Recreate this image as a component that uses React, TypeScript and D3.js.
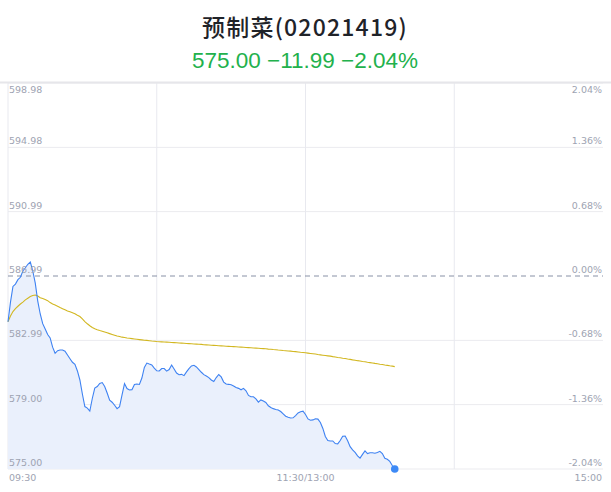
import * as d3 from 'd3';

const PREV_CLOSE = 586.99;
const PRICE_MIN = 575.0;
const PRICE_MAX = 598.98;
const TOTAL_MINUTES = 240;

// minute prices from 09:30
const prices: number[] = [
  584.15, 585.37, 586.34, 586.49, 586.76, 586.91, 587.3, 587.5, 587.72, 587.86,
  587.3, 586.55, 585.43, 584.63, 584.03, 583.7, 583.35, 583.14, 582.57, 582.19,
  582.35, 582.39, 582.39, 582.32, 582.08, 581.85, 581.63, 581.5, 581.09, 580.53,
  579.66, 578.88, 578.78, 578.6, 579.38, 580.03, 580.12, 580.32, 580.37, 580.12,
  579.72, 579.27, 579.15, 578.96, 578.75, 578.87, 579.6, 580.31, 580.0, 579.91,
  579.93, 580.25, 580.28, 580.25, 580.65, 581.31, 581.58, 581.52, 581.47, 581.27,
  581.1, 581.09, 581.24, 581.24, 581.08, 581.18, 581.46, 581.21, 580.96, 580.86,
  580.88, 580.8, 581.03, 581.24, 581.4, 581.44, 581.34, 581.18, 581.01, 580.86,
  580.78, 580.68, 580.53, 580.44, 580.68, 580.87, 580.72, 580.4, 580.28, 580.26,
  580.23, 580.16, 580.06, 580.01, 579.92, 580.01, 579.86, 579.57, 579.49, 579.49,
  579.36, 579.15, 579.29, 579.22, 579.13, 578.93, 578.82, 578.75, 578.7, 578.67,
  578.57, 578.43, 578.28, 578.22, 578.17, 578.18, 578.32, 578.48, 578.56, 578.59,
  578.39, 578.11, 578.03, 578.05, 578.12, 578.1, 577.89, 577.52, 577.02, 576.77,
  576.74, 576.74, 576.58, 576.56, 576.77, 577.03, 577.05, 576.76, 576.39, 576.19,
  576.03, 575.82, 575.68, 575.91, 576.12, 575.96, 576.01, 576.01, 575.98, 576.03,
  576.1, 575.96, 575.66, 575.6, 575.47, 575.22, 575.0,
];

// average price line
const avgPrices: number[] = [
  584.15, 584.5, 584.78, 584.96, 585.11, 585.25, 585.37, 585.51, 585.61, 585.71,
  585.78, 585.81, 585.75, 585.64, 585.59, 585.53, 585.46, 585.34, 585.25, 585.19,
  585.11, 585.03, 584.96, 584.89, 584.82, 584.77, 584.71, 584.64, 584.55, 584.47,
  584.32, 584.16, 584.02, 583.9, 583.79, 583.71, 583.65, 583.6, 583.56, 583.51,
  583.46, 583.41, 583.36, 583.31, 583.26, 583.23, 583.19, 583.17, 583.14, 583.12,
  583.1, 583.08, 583.06, 583.04, 583.02, 583.0, 582.99, 582.97, 582.95, 582.94,
  582.92, 582.91, 582.9, 582.89, 582.88, 582.87, 582.86, 582.85, 582.84, 582.83,
  582.82, 582.81, 582.8, 582.79, 582.78, 582.77, 582.76, 582.75, 582.74, 582.72,
  582.71, 582.7, 582.69, 582.68, 582.67, 582.66, 582.65, 582.64, 582.63, 582.62,
  582.61, 582.6, 582.59, 582.58, 582.57, 582.56, 582.55, 582.54, 582.53, 582.52,
  582.51, 582.5, 582.49, 582.48, 582.47, 582.45, 582.44, 582.42, 582.41, 582.39,
  582.38, 582.36, 582.35, 582.33, 582.32, 582.3, 582.29, 582.27, 582.25, 582.24,
  582.22, 582.2, 582.18, 582.16, 582.14, 582.11, 582.09, 582.07, 582.05, 582.03,
  582.01, 581.98, 581.96, 581.93, 581.91, 581.88, 581.86, 581.83, 581.81, 581.78,
  581.76, 581.73, 581.71, 581.68, 581.66, 581.63, 581.61, 581.59, 581.56, 581.54,
  581.51, 581.49, 581.46, 581.44, 581.41, 581.39, 581.36,
];

const priceTicks: number[] = [598.98, 594.98, 590.99, 586.99, 582.99, 579.0, 575.0];
const priceLabels: string[] = ['598.98', '594.98', '590.99', '586.99', '582.99', '579.00', '575.00'];
const pctLabels: string[] = ['2.04%', '1.36%', '0.68%', '0.00%', '-0.68%', '-1.36%', '-2.04%'];
const timeTicks: number[] = [0, 60, 120, 180, 240];
const timeLabels: string[] = ['09:30', '', '11:30/13:00', '', '15:00'];

const W = 611;
const H = 492;
const left = 8;
const right = 603;
const top = 83;
const bottom = 469;

export default function App() {
  const x = d3.scaleLinear().domain([0, TOTAL_MINUTES]).range([left, right]);
  const y = d3.scaleLinear().domain([PRICE_MIN, PRICE_MAX]).range([bottom, top]);

  const line = d3
    .line<number>()
    .x((_, i) => x(i))
    .y((d) => y(d));
  const area = d3
    .area<number>()
    .x((_, i) => x(i))
    .y0(bottom)
    .y1((d) => y(d));

  const last = prices.length - 1;
  const labelFont = 'DejaVu Sans, sans-serif';
  const labelColor = '#9ea3b2';

  return (
    <svg
      width={W}
      height={H}
      style={{ position: 'absolute', left: 0, top: 0, background: '#fff' }}
    >
      <text
        x={305}
        y={36}
        textAnchor="middle"
        fontFamily="'Noto Sans CJK SC', sans-serif"
        fontSize={23}
        fontWeight={500}
        letterSpacing={1.2}
        fill="#1f2329"
      >
        预制菜(02021419)
      </text>
      <text
        x={305}
        y={68}
        textAnchor="middle"
        fontFamily="'Liberation Sans', Arial, sans-serif"
        fontSize={22.5}
        fill="#22b14c"
      >
        575.00 −11.99 −2.04%
      </text>

      {/* horizontal grid */}
      {priceTicks.map((p, i) =>
        p === PREV_CLOSE ? null : (
          <line
            key={`h${i}`}
            x1={left}
            x2={right}
            y1={y(p)}
            y2={y(p)}
            stroke="#ebebef"
            strokeWidth={1}
          />
        )
      )}
      {/* vertical grid */}
      {timeTicks.slice(0, 4).map((t) => (
        <line key={`v${t}`} x1={x(t)} x2={x(t)} y1={top} y2={bottom} stroke="#e8e9ef" strokeWidth={1} />
      ))}
      <line x1={0} x2={W} y1={top - 0.5} y2={top - 0.5} stroke="#e6e6ea" strokeWidth={2} />

      <path d={area(prices) ?? ''} fill="#eaf0fc" />
      <line
        x1={left}
        x2={right}
        y1={y(PREV_CLOSE)}
        y2={y(PREV_CLOSE)}
        stroke="#8891a6"
        strokeWidth={1}
        strokeDasharray="5,4"
      />
      <path d={line(avgPrices) ?? ''} fill="none" stroke="#d2b721" strokeWidth={1.1} />
      <path d={line(prices) ?? ''} fill="none" stroke="#3e82f2" strokeWidth={1.1} />
      <circle cx={x(last)} cy={y(prices[last])} r={3.8} fill="#3d8af6" />

      {/* left price labels */}
      {priceTicks.map((p, i) => (
        <text
          key={`pl${i}`}
          x={left + 1}
          y={i === 0 ? y(p) + 10 : y(p) - 3}
          fontFamily={labelFont}
          fontSize={9.5}
          fill={labelColor}
        >
          {priceLabels[i]}
        </text>
      ))}
      {/* right percent labels */}
      {priceTicks.map((p, i) => (
        <text
          key={`pr${i}`}
          x={right - 1}
          y={i === 0 ? y(p) + 10 : y(p) - 3}
          textAnchor="end"
          fontFamily={labelFont}
          fontSize={9.5}
          fill={labelColor}
        >
          {pctLabels[i]}
        </text>
      ))}
      {/* time labels */}
      {timeTicks.map((t, i) =>
        timeLabels[i] ? (
          <text
            key={`t${t}`}
            x={i === 0 ? x(t) + 1 : i === 4 ? x(t) - 1 : x(t)}
            y={bottom + 12}
            textAnchor={i === 0 ? 'start' : i === 4 ? 'end' : 'middle'}
            fontFamily={labelFont}
            fontSize={9.5}
            fill={labelColor}
          >
            {timeLabels[i]}
          </text>
        ) : null
      )}
    </svg>
  );
}
